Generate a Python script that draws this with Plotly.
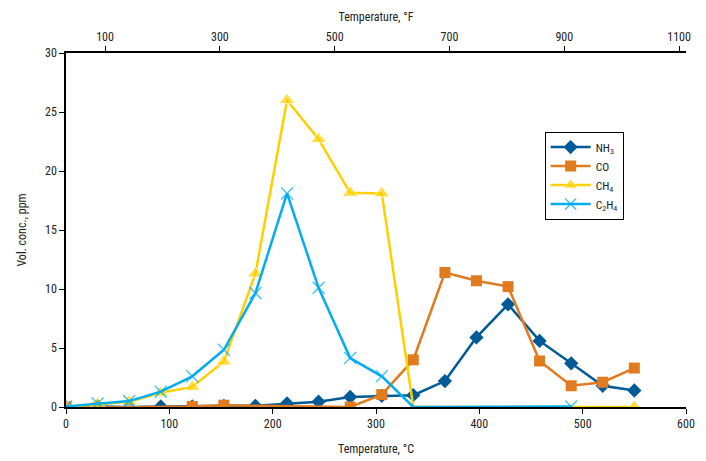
import plotly.graph_objects as go

temp_c = [0, 30.6, 61.1, 91.7, 122.2, 152.8, 183.3, 213.9, 244.4, 275.0,
          305.6, 336.1, 366.7, 397.2, 427.8, 458.3, 488.9, 519.4, 550.0]

nh3 = [0, 0.05, 0, 0.05, 0.05, 0.1, 0.1, 0.3, 0.45, 0.85,
       0.95, 1.0, 2.2, 5.9, 8.7, 5.6, 3.7, 1.8, 1.4]

co_t = [0, 30.6, 122.2, 152.8, 275.0, 305.6, 336.1, 366.7, 397.2, 427.8,
        458.3, 488.9, 519.4, 550.0]
co = [0, -0.05, 0.05, 0.15, 0.0, 1.05, 4.0, 11.4, 10.7, 10.2,
      3.9, 1.8, 2.1, 3.3]

ch4_t = [0, 30.6, 61.1, 91.7, 122.2, 152.8, 183.3, 213.9, 244.4, 275.0,
         305.6, 336.1, 550.0]
ch4 = [0, 0.25, 0.45, 1.2, 1.7, 3.85, 11.3, 26.0, 22.7, 18.15, 18.1, 0, 0]

c2h4_t = [0, 30.6, 61.1, 91.7, 122.2, 152.8, 183.3, 213.9, 244.4, 275.0,
          305.6, 336.1, 488.9]
c2h4 = [0.05, 0.3, 0.5, 1.3, 2.6, 4.85, 9.65, 18.1, 10.1, 4.15, 2.6, 0, 0.05]

x_ticks_c = [0, 100, 200, 300, 400, 500, 600]
x_ticks_f = [100, 300, 500, 700, 900, 1100]
y_ticks = [0, 5, 10, 15, 20, 25, 30]

FONT = "Liberation Sans Narrow, Roboto Condensed, Arial Narrow, Roboto, sans-serif"

fig = go.Figure()

fig.add_trace(go.Scatter(
    x=temp_c, y=nh3, name="NH<sub>3</sub>", mode="lines+markers",
    line=dict(color="#005a96", width=2.5),
    marker=dict(symbol="diamond", size=11, color="#005a96")))

fig.add_trace(go.Scatter(
    x=co_t, y=co, name="CO", mode="lines+markers",
    line=dict(color="#e07b20", width=2.5),
    marker=dict(symbol="square", size=11, color="#e07b20")))

ch4_sizes = [14] * len(ch4_t)
ch4_sizes[11] = 0
fig.add_trace(go.Scatter(
    x=ch4_t, y=ch4, name="CH<sub>4</sub>", mode="lines+markers",
    line=dict(color="#ffd000", width=2.5),
    marker=dict(symbol="triangle-up", size=ch4_sizes, color="#ffd000")))

c2_sizes = [12] * len(c2h4_t)
c2_sizes[11] = 0
fig.add_trace(go.Scatter(
    x=c2h4_t, y=c2h4, name="C<sub>2</sub>H<sub>4</sub>", mode="lines+markers",
    line=dict(color="#00aeef", width=2.5),
    marker=dict(symbol="x-thin", size=c2_sizes, color="#00aeef",
                line=dict(color="#00aeef", width=1.5))))

axis_common = dict(showgrid=False, zeroline=False, showline=True,
                   linecolor="black", linewidth=1.5, ticks="outside",
                   ticklen=5, tickcolor="black", tickwidth=1.2,
                   automargin=False,
                   tickfont=dict(family=FONT, size=12, color="#222"))

fig.update_layout(
    width=698, height=453,
    margin=dict(l=58, r=20, t=45, b=54),
    plot_bgcolor="white", paper_bgcolor="white",
    font=dict(family=FONT, size=12, color="#222"),
    xaxis=dict(range=[0, 600], tickvals=x_ticks_c,
               title=dict(text="Temperature, °C", font=dict(family=FONT, size=12),
                          standoff=14),
               **axis_common),
    xaxis2=dict(range=[32, 1112], tickvals=x_ticks_f, overlaying="x",
                side="top", anchor="y",
                title=dict(text="Temperature, °F", font=dict(family=FONT, size=12),
                           standoff=6),
                **axis_common),
    yaxis=dict(range=[0, 30], tickvals=y_ticks,
               title=dict(text="Vol. conc., ppm", font=dict(family=FONT, size=12),
                          standoff=16),
               **axis_common),
    legend=dict(x=0.772, y=0.778, xanchor="left", yanchor="top",
                bordercolor="black", borderwidth=1, bgcolor="white",
                font=dict(family=FONT, size=11.5, color="#222"),
                tracegroupgap=4, itemwidth=40),
    showlegend=True,
)

fig.add_trace(go.Scatter(x=[32, 1112], y=[None, None], xaxis="x2",
                         showlegend=False, hoverinfo="skip"))

fig.write_html("out.html")
